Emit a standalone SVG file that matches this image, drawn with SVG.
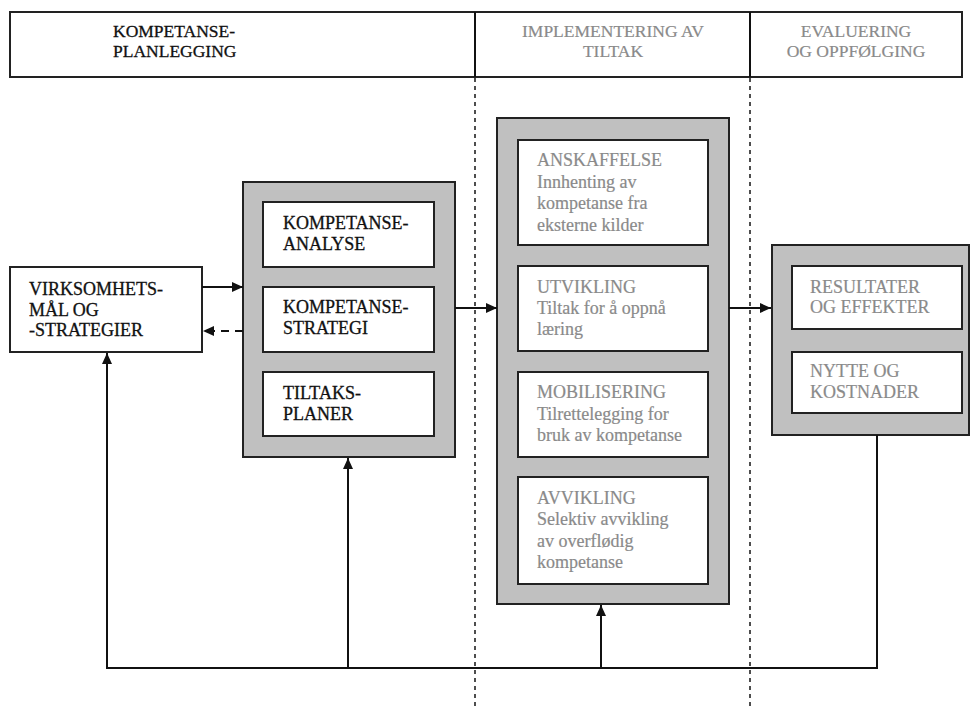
<svg xmlns="http://www.w3.org/2000/svg" width="971" height="707" viewBox="0 0 971 707">
<style>
.t{font-family:"Liberation Serif","Times New Roman",serif;font-size:18px;fill:#111;stroke:#111;stroke-width:0.3}
.h{font-size:17.5px}
.g{fill:#8a8a8a;stroke:#8a8a8a;stroke-width:0.2}
.box{fill:#fff;stroke:#222;stroke-width:2}
.gray{fill:#c0c0c0;stroke:#222;stroke-width:2}
.ln{fill:none;stroke:#111;stroke-width:2}
.dot{fill:none;stroke:#222;stroke-width:1.6;stroke-dasharray:4 4}
</style>
<defs>
<marker id="ah" markerUnits="userSpaceOnUse" markerWidth="12" markerHeight="12" refX="11" refY="5" orient="auto">
<path d="M0,0 L11,5 L0,10 z" fill="#111"/>
</marker>
</defs>
<rect width="971" height="707" fill="#fff"/>

<g id="header">
<rect x="10" y="12" width="952" height="65" class="box"/>
<line x1="475" y1="12" x2="475" y2="77" class="ln"/>
<line x1="750" y1="12" x2="750" y2="77" class="ln"/>
<text class="t h" x="113" y="37">KOMPETANSE-</text>
<text class="t h" x="113" y="56.5">PLANLEGGING</text>
<text class="t h g" x="613" y="37" text-anchor="middle">IMPLEMENTERING AV</text>
<text class="t h g" x="613" y="56.5" text-anchor="middle">TILTAK</text>
<text class="t h g" x="856" y="37" text-anchor="middle">EVALUERING</text>
<text class="t h g" x="856" y="56.5" text-anchor="middle">OG OPPFØLGING</text>
</g>

<g id="dividers">
<line x1="475" y1="78" x2="475" y2="707" class="dot"/>
<line x1="750" y1="78" x2="750" y2="707" class="dot"/>
</g>

<g id="virksomhet">
<rect x="10" y="267" width="192" height="85" class="box"/>
<text class="t" x="29" y="295">VIRKSOMHETS-<tspan x="29" y="315.5">MÅL OG</tspan><tspan x="29" y="336">-STRATEGIER</tspan></text>
</g>

<g id="planlegging">
<rect x="243" y="182" width="212" height="275" class="gray"/>
<g id="analyse">
<rect x="263" y="202" width="171" height="65" class="box"/>
<text class="t" x="283" y="229">KOMPETANSE-<tspan x="283" y="250">ANALYSE</tspan></text>
</g>
<g id="strategi">
<rect x="263" y="287" width="171" height="65" class="box"/>
<text class="t" x="283" y="313">KOMPETANSE-<tspan x="283" y="334">STRATEGI</tspan></text>
</g>
<g id="tiltaksplaner">
<rect x="263" y="372" width="171" height="64" class="box"/>
<text class="t" x="283" y="399">TILTAKS-<tspan x="283" y="420">PLANER</tspan></text>
</g>
</g>

<g id="implementering">
<rect x="497" y="118" width="232" height="486" class="gray"/>
<g id="anskaffelse">
<rect x="518" y="140" width="190" height="105" class="box"/>
<text class="t g" x="537" y="166">ANSKAFFELSE<tspan x="537" y="187.5">Innhenting av</tspan><tspan x="537" y="209">kompetanse fra</tspan><tspan x="537" y="230.5">eksterne kilder</tspan></text>
</g>
<g id="utvikling">
<rect x="518" y="266" width="190" height="85" class="box"/>
<text class="t g" x="537" y="293">UTVIKLING<tspan x="537" y="314">Tiltak for å oppnå</tspan><tspan x="537" y="335">læring</tspan></text>
</g>
<g id="mobilisering">
<rect x="518" y="372" width="190" height="85" class="box"/>
<text class="t g" x="537" y="398">MOBILISERING<tspan x="537" y="419.5">Tilrettelegging for</tspan><tspan x="537" y="441">bruk av kompetanse</tspan></text>
</g>
<g id="avvikling">
<rect x="518" y="477" width="190" height="107" class="box"/>
<text class="t g" x="537" y="504">AVVIKLING<tspan x="537" y="525">Selektiv avvikling</tspan><tspan x="537" y="546.5">av overflødig</tspan><tspan x="537" y="568">kompetanse</tspan></text>
</g>
</g>

<g id="evaluering">
<rect x="772" y="245" width="197" height="190" class="gray"/>
<g id="resultater">
<rect x="792" y="266" width="170" height="63" class="box"/>
<text class="t g" x="810" y="293">RESULTATER<tspan x="810" y="313">OG EFFEKTER</tspan></text>
</g>
<g id="nytte">
<rect x="792" y="352" width="170" height="61" class="box"/>
<text class="t g" x="810" y="377">NYTTE OG<tspan x="810" y="398">KOSTNADER</tspan></text>
</g>
</g>

<g id="connectors">
<line x1="202" y1="287" x2="243" y2="287" class="ln" marker-end="url(#ah)"/>
<line x1="243" y1="331" x2="203" y2="331" class="ln" stroke-dasharray="8 6" marker-end="url(#ah)"/>
<line x1="455" y1="308" x2="497" y2="308" class="ln" marker-end="url(#ah)"/>
<line x1="729" y1="308" x2="771" y2="308" class="ln" marker-end="url(#ah)"/>
<path d="M877,435 V668 H107 V353" class="ln" marker-end="url(#ah)"/>
<path d="M348,668 V458" class="ln" marker-end="url(#ah)"/>
<path d="M601,668 V605" class="ln" marker-end="url(#ah)"/>
</g>
</svg>
